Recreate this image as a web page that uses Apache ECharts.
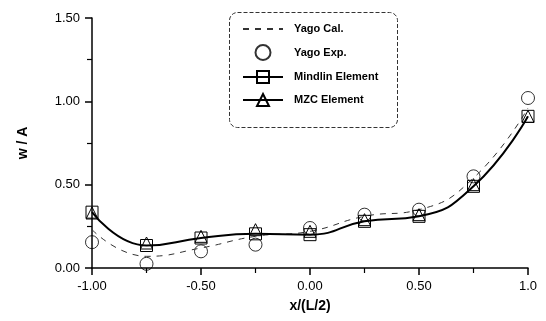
<!DOCTYPE html>
<html>
<head>
<meta charset="utf-8">
<script src="https://cdn.jsdelivr.net/npm/echarts@6/dist/echarts.min.js"></script>
<style>html,body{margin:0;padding:0;background:#fff}#c{width:546px;height:321px}</style>
</head>
<body>
<div id="c"></div>
<script>
var xValues = [-1.0, -0.75, -0.5, -0.25, 0.0, 0.25, 0.5, 0.75, 1.0];
var yagoCal = [0.23, 0.07, 0.12, 0.19, 0.22, 0.31, 0.35, 0.54, 0.96];
var yagoExp = [0.155, 0.025, 0.10, 0.14, 0.24, 0.32, 0.35, 0.55, 1.02];
var mindlin = [0.335, 0.135, 0.18, 0.205, 0.20, 0.28, 0.31, 0.49, 0.91];
var mzc = [0.33, 0.15, 0.19, 0.23, 0.22, 0.29, 0.32, 0.50, 0.91];
var xTickLabels = {'-1': '-1.00', '-0.5': '-0.50', '0': '0.00', '0.5': '0.50', '1': '1.0'};
var yTickLabels = {'0': '0.00', '0.5': '0.50', '1': '1.00', '1.5': '1.50'};

function pairs(v) { return xValues.map(function (x, i) { return [x, v[i]]; }); }

var FONT = '"Liberation Sans", Arial, sans-serif';
var chart = echarts.init(document.getElementById('c'));
chart.setOption({
  animation: false,
  backgroundColor: '#fff',
  grid: { left: 92, right: 18, top: 18, bottom: 53 },
  xAxis: {
    type: 'value', min: -1, max: 1, interval: 0.5,
    name: 'x/(L/2)', nameLocation: 'middle', nameGap: 31,
    nameTextStyle: { fontFamily: FONT, fontSize: 14, fontWeight: 'bold', color: '#000' },
    axisLine: { onZero: false, lineStyle: { color: '#000', width: 1.5 } },
    axisTick: { show: true, inside: false, length: 7, lineStyle: { color: '#000', width: 1.5 } },
    minorTick: { show: true, splitNumber: 2, length: 5, lineStyle: { color: '#000', width: 1.2 } },
    splitLine: { show: false },
    axisLabel: { color: '#000', fontFamily: FONT, fontSize: 13, margin: 12,
      formatter: function (v) { return xTickLabels[String(v)] || ''; } }
  },
  yAxis: {
    type: 'value', min: 0, max: 1.5, interval: 0.5,
    name: 'w / A', nameLocation: 'middle', nameGap: 62, nameRotate: 90,
    nameTextStyle: { fontFamily: FONT, fontSize: 14, fontWeight: 'bold', color: '#000' },
    axisLine: { show: true, onZero: false, lineStyle: { color: '#000', width: 1.5 } },
    axisTick: { show: true, inside: false, length: 7, lineStyle: { color: '#000', width: 1.5 } },
    minorTick: { show: true, splitNumber: 2, length: 5, lineStyle: { color: '#000', width: 1.2 } },
    splitLine: { show: false },
    axisLabel: { color: '#000', fontFamily: FONT, fontSize: 13, margin: 12,
      formatter: function (v) { return yTickLabels[String(v)] || ''; } }
  },
  legend: {
    orient: 'vertical', left: 242, top: 23, padding: 0,
    itemWidth: 40, itemHeight: 15, itemGap: 9,
    textStyle: { fontFamily: FONT, fontSize: 11, fontWeight: 'bold', color: '#000', padding: [0, 0, 0, 6] },
    data: [
      { name: 'Yago Cal.', itemStyle: { opacity: 0 } },
      { name: 'Yago Exp.' },
      { name: 'Mindlin Element' },
      { name: 'MZC Element', lineStyle: { opacity: 1, color: '#000', width: 2 } }
    ]
  },
  graphic: [{
    type: 'rect', left: 227, top: 10, shape: { width: 168, height: 115, r: 8 },
    style: { fill: 'none', stroke: '#333', lineWidth: 1, lineDash: [4, 2] }, z: 0
  }],
  series: [
    { name: 'Yago Cal.', type: 'line', smooth: true, symbol: 'none', data: pairs(yagoCal),
      lineStyle: { color: '#333', width: 1, type: [6, 6] }, itemStyle: { color: '#333' } },
    { name: 'Yago Exp.', type: 'scatter', symbol: 'circle', symbolSize: 13, data: pairs(yagoExp),
      itemStyle: { color: 'rgba(255,255,255,0)', borderColor: '#000', borderWidth: 1 } },
    { name: 'Mindlin Element', type: 'line', smooth: true, symbol: 'rect', symbolSize: 12, showAllSymbol: true,
      data: pairs(mindlin),
      lineStyle: { color: '#000', width: 2 },
      itemStyle: { color: 'rgba(255,255,255,0)', borderColor: '#000', borderWidth: 1 } },
    { name: 'MZC Element', type: 'line', smooth: true, symbol: 'triangle', symbolSize: 12, showAllSymbol: true,
      data: pairs(mzc),
      lineStyle: { color: '#000', width: 2, opacity: 0 },
      itemStyle: { color: 'rgba(255,255,255,0)', borderColor: '#000', borderWidth: 1 } }
  ]
});
</script>
</body>
</html>
